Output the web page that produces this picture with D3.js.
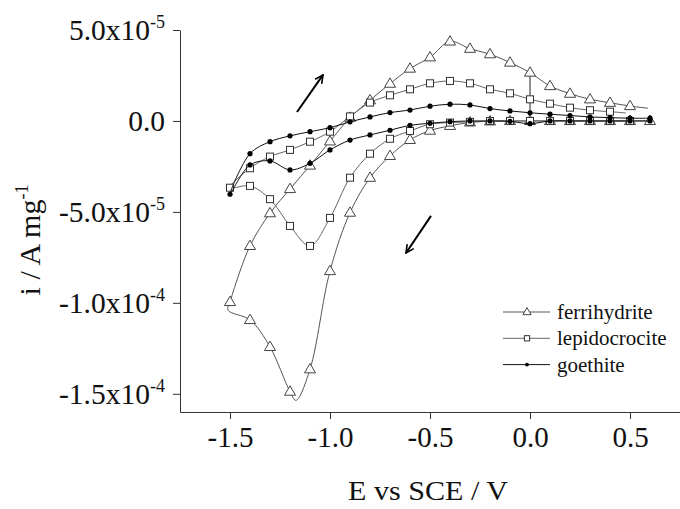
<!DOCTYPE html>
<html>
<head>
<meta charset="utf-8">
<script src="https://cdn.jsdelivr.net/npm/d3@7"></script>
<style>
  body { margin: 0; background: #fff; }
  svg { display: block; font-family: "Liberation Serif", "Times New Roman", serif; }
  svg text { font-family: "Liberation Serif", "Times New Roman", serif; }
</style>
</head>
<body>
<svg id="chart" width="680" height="509"></svg>
<script>
// E (V vs SCE), i (A mg^-1)
// each series runs cathodic (positive end -> -1.5 V) then anodic back up
const ferrihydrite = [
  [0.6, 0], [0.5, 0], [0.4, 0], [0.3, 0], [0.2, 0], [0.1, 0], [0.0, 0], [-0.1, 0],
  [-0.2, -0.02e-5], [-0.3, -0.08e-5], [-0.4, -0.27e-5], [-0.5, -0.53e-5], [-0.6, -1.04e-5],
  [-0.7, -1.92e-5], [-0.8, -3.12e-5], [-0.9, -5.04e-5], [-1.0, -8.25e-5], [-1.1, -13.65e-5],
  [-1.17, -15.36e-5], [-1.2, -14.88e-5], [-1.3, -12.42e-5], [-1.4, -10.94e-5], [-1.51, -10.4e-5],
  [-1.5, -9.95e-5], [-1.4, -6.87e-5], [-1.3, -5.07e-5], [-1.2, -3.74e-5], [-1.1, -2.45e-5],
  [-1.0, -1.12e-5], [-0.9, 0.18e-5], [-0.8, 1.14e-5], [-0.7, 2.05e-5], [-0.6, 2.88e-5],
  [-0.5, 3.5e-5], [-0.4, 4.37e-5], [-0.3, 3.97e-5], [-0.2, 3.67e-5], [-0.1, 3.21e-5],
  [0.0, 2.66e-5], [0.1, 1.92e-5], [0.2, 1.5e-5], [0.3, 1.19e-5], [0.4, 1.0e-5], [0.5, 0.82e-5],
  [0.59, 0.7e-5]
];
// the vertical drop at 0 V in the ferrihydrite trace
const ferriStep = [[0.0, 2.66e-5], [0.0, 0]];

const lepidocrocite = [
  [0.5, 0], [0.4, 0], [0.3, 0], [0.2, 0], [0.1, 0], [0.0, 0], [-0.1, 0], [-0.2, 0],
  [-0.3, -0.05e-5], [-0.4, -0.09e-5], [-0.5, -0.18e-5], [-0.6, -0.55e-5], [-0.7, -0.98e-5],
  [-0.8, -1.8e-5], [-0.9, -3.12e-5], [-1.0, -5.33e-5], [-1.1, -6.87e-5], [-1.2, -5.77e-5],
  [-1.3, -4.3e-5], [-1.4, -3.57e-5], [-1.5, -3.67e-5],
  [-1.4, -2.6e-5], [-1.3, -1.96e-5], [-1.2, -1.59e-5], [-1.1, -1.14e-5], [-1.0, -0.59e-5],
  [-0.9, 0.25e-5], [-0.8, 1.01e-5], [-0.7, 1.41e-5], [-0.6, 1.74e-5], [-0.5, 2.07e-5],
  [-0.4, 2.2e-5], [-0.3, 2.07e-5], [-0.2, 1.74e-5], [-0.1, 1.52e-5], [0.0, 1.19e-5],
  [0.1, 0.95e-5], [0.2, 0.73e-5], [0.3, 0.59e-5], [0.4, 0.51e-5], [0.48, 0.44e-5]
];

const goethite = [
  [0.6, 0], [0.5, 0], [0.4, 0], [0.3, 0], [0.2, 0], [0.1, 0], [0.0, -0.15e-5], [-0.1, -0.02e-5],
  [-0.2, 0], [-0.3, 0], [-0.4, -0.04e-5], [-0.5, -0.13e-5], [-0.6, -0.24e-5], [-0.7, -0.51e-5],
  [-0.8, -0.77e-5], [-0.9, -1.05e-5], [-1.0, -1.59e-5], [-1.1, -2.33e-5], [-1.2, -2.69e-5],
  [-1.3, -2.2e-5], [-1.4, -2.42e-5], [-1.5, -4.03e-5],
  [-1.4, -1.8e-5], [-1.3, -1.14e-5], [-1.2, -0.82e-5], [-1.1, -0.59e-5], [-1.0, -0.37e-5],
  [-0.9, -0.05e-5], [-0.8, 0.22e-5], [-0.7, 0.46e-5], [-0.6, 0.6e-5], [-0.5, 0.81e-5],
  [-0.4, 0.92e-5], [-0.3, 0.88e-5], [-0.2, 0.68e-5], [-0.1, 0.55e-5], [0.0, 0.45e-5],
  [0.1, 0.37e-5], [0.2, 0.3e-5], [0.3, 0.22e-5], [0.4, 0.18e-5], [0.5, 0.15e-5], [0.6, 0.15e-5]
];

const seriesNames = ["ferrihydrite", "lepidocrocite", "goethite"];

// sweep direction arrows, [from, to] in data units
const arrows = [
  [[-1.165, 0.49e-5], [-1.035, 2.53e-5]],
  [[-0.495, -5.22e-5], [-0.62, -7.26e-5]]
];

const xMajor = [-1.5, -1.0, -0.5, 0.0, 0.5];
const xMinor = [-1.25, -0.75, -0.25, 0.25];
const xLabels = ["-1.5", "-1.0", "-0.5", "0.0", "0.5"];
const yMajor = [-1.5e-4, -1.0e-4, -5e-5, 0, 5e-5];
const yMinor = [-1.25e-4, -7.5e-5, -2.5e-5, 2.5e-5];
const yLabels = [["-1.5x10", "-4"], ["-1.0x10", "-4"], ["-5.0x10", "-5"], ["0.0", ""], ["5.0x10", "-5"]];

const svg = d3.select("#chart");

let x = d3.scaleLinear().domain([-1.75, 0.75]).range([180, 680]);
let y = d3.scaleLinear().domain([-1.6e-4, 5e-5]).range([412, 30]);

const axisColor = "#333";

//Axes
let xAxis = svg.append("g").attr("transform", `translate(0,${y.range()[0]})`);
xAxis.call(d3.axisBottom(x).tickValues(xMinor).tickSize(4).tickSizeOuter(0).tickFormat(""));
xAxis.call(d3.axisBottom(x).tickValues(xMajor).tickSize(7).tickSizeOuter(0).tickPadding(7)
  .tickFormat((d, i) => xLabels[i]));

let yAxis = svg.append("g").attr("transform", `translate(${x.range()[0]},0)`);
yAxis.call(d3.axisLeft(y).tickValues(yMinor).tickSize(4).tickSizeOuter(0).tickFormat(""));
yAxis.call(d3.axisLeft(y).tickValues(yMajor).tickSize(7).tickSizeOuter(0).tickPadding(8)
  .tickFormat(""));

// d3 puts sans-serif / 10px on the axis groups, drop that
xAxis.attr("font-family", null).attr("font-size", null);
yAxis.attr("font-family", null).attr("font-size", null);

svg.selectAll("path.domain, .tick line").attr("stroke", axisColor).attr("stroke-width", 1);
xAxis.selectAll(".tick text").attr("fill", "#111").style("font-size", "29px");
yAxis.selectAll(".tick text").attr("fill", "#111").style("font-size", "29.5px");

// y labels with superscript exponents
yAxis.selectAll(".tick text")
  .each(function(d){
    let idx = yMajor.indexOf(d);
    if(idx < 0) return;
    let t = d3.select(this);
    t.text(null);
    t.append("tspan").text(yLabels[idx][0]);
    if(yLabels[idx][1]){
      t.append("tspan").attr("dy", "-12").style("font-size", "18px").text(yLabels[idx][1]);
    }
  });

//Axis titles
svg.append("text")
  .attr("x", 348).attr("y", 500)
  .attr("textLength", 160).attr("lengthAdjust", "spacingAndGlyphs")
  .style("font-size", "27px").attr("fill", "#111")
  .text("E vs SCE / V");

let yTitle = svg.append("text")
  .attr("transform", "translate(40,240) rotate(-90)")
  .attr("text-anchor", "middle")
  .style("font-size", "30px").attr("fill", "#111");
yTitle.append("tspan").text("i / A mg");
yTitle.append("tspan").attr("dy", -12).style("font-size", "18px").text("-1");

//Lines and markers
const styles = [
  {line: "#555", stroke: "#444", shape: "triangle"},
  {line: "#666", stroke: "#333", shape: "square"},
  {line: "#111", stroke: "#000", shape: "dot"}
];

let line = d3.line()
  .x(d => x(d[0]))
  .y(d => y(d[1]))
  .curve(d3.curveCatmullRom.alpha(0.5));

function onGrid(e){
  return Math.abs(e * 10 - Math.round(e * 10)) < 1e-6;
}

function drawMarker(g, shape, cx, cy, stroke, scale = 1){
  if(shape == "triangle"){
    let w = 11 * scale, top = 5.8 * scale, bot = 3.6 * scale;
    g.append("path")
      .attr("d", `M${cx},${cy - top}L${cx + w / 2},${cy + bot}L${cx - w / 2},${cy + bot}Z`)
      .attr("fill", "#fff").attr("stroke", stroke).attr("stroke-width", 1);
  } else if(shape == "square"){
    let s = 7 * scale;
    g.append("rect")
      .attr("x", cx - s / 2).attr("y", cy - s / 2).attr("width", s).attr("height", s)
      .attr("fill", "#fff").attr("stroke", stroke).attr("stroke-width", 1);
  } else {
    g.append("circle")
      .attr("cx", cx).attr("cy", cy).attr("r", 2.6 * scale)
      .attr("fill", stroke);
  }
}

const allSeries = [ferrihydrite, lepidocrocite, goethite];

allSeries.forEach((data, si) => {
  let st = styles[si];
  let g = svg.append("g");
  g.append("path")
    .attr("d", line(data))
    .attr("fill", "none").attr("stroke", st.line).attr("stroke-width", 1);
  if(si == 0){
    g.append("path")
      .attr("d", d3.line().x(d => x(d[0])).y(d => y(d[1]))(ferriStep))
      .attr("fill", "none").attr("stroke", "#222").attr("stroke-width", 1);
  }
  data.filter(d => onGrid(d[0])).forEach(d => {
    drawMarker(g, st.shape, x(d[0]), y(d[1]), st.stroke);
  });
});

//Arrows
svg.append("defs").append("marker")
  .attr("id", "head")
  .attr("viewBox", "0 0 10 10")
  .attr("refX", 9).attr("refY", 5)
  .attr("markerWidth", 5).attr("markerHeight", 5)
  .attr("orient", "auto")
  .append("path")
    .attr("d", "M1,1L9,5L1,9")
    .attr("fill", "none").attr("stroke", "#000").attr("stroke-width", 1.6);

arrows.forEach(a => {
  svg.append("line")
    .attr("x1", x(a[0][0])).attr("y1", y(a[0][1]))
    .attr("x2", x(a[1][0])).attr("y2", y(a[1][1]))
    .attr("stroke", "#000").attr("stroke-width", 2)
    .attr("marker-end", "url(#head)");
});

//Legend
let legend = svg.append("g").attr("transform", "translate(503,312)");
seriesNames.forEach((name, i) => {
  let row = legend.append("g").attr("transform", `translate(0,${i * 26.3})`);
  row.append("line").attr("x1", 0).attr("x2", 47).attr("y1", 0).attr("y2", 0)
    .attr("stroke", styles[i].line).attr("stroke-width", 1);
  drawMarker(row, styles[i].shape, 24, 0, styles[i].stroke, 0.75);
  row.append("text").attr("x", 54).attr("y", 7)
    .style("font-size", "21px").attr("fill", "#111").text(name);
});
</script>
</body>
</html>
